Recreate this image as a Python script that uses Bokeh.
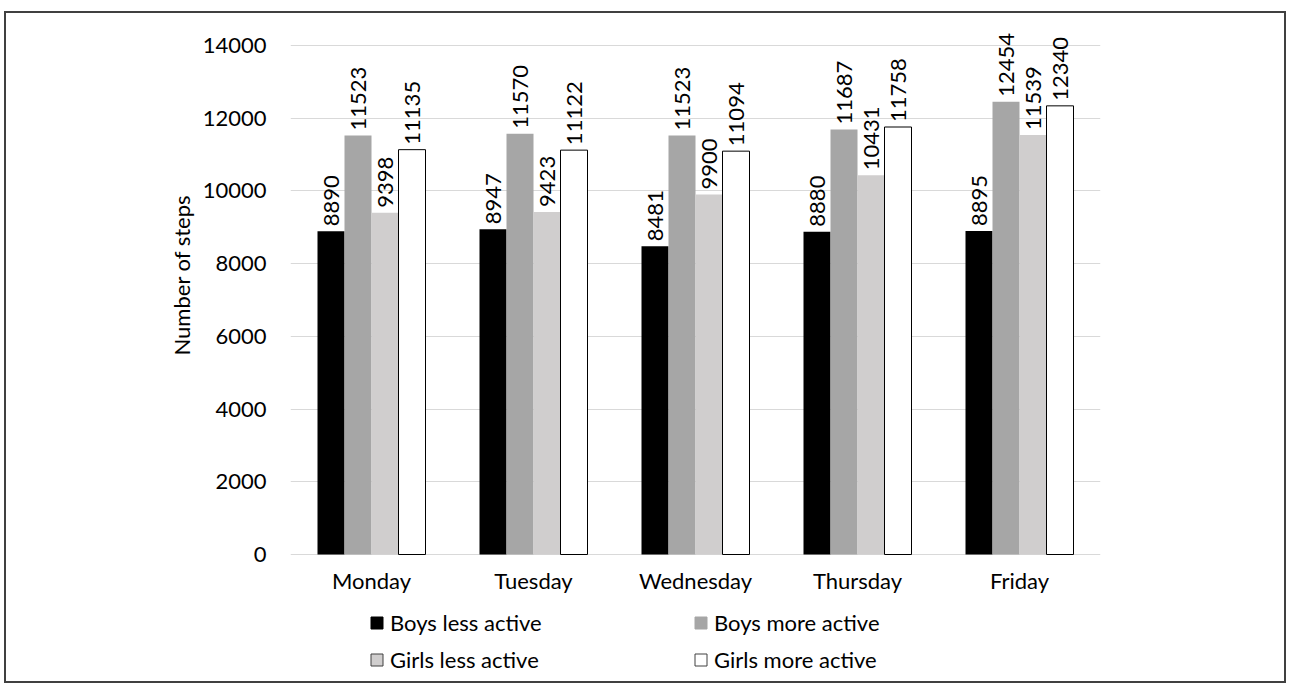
from bokeh.plotting import figure
from bokeh.models import (ColumnDataSource, FactorRange, Range1d, FixedTicker,
                          Legend, LegendItem, Title)
from bokeh.transform import dodge
from bokeh.core.properties import value
from bokeh.embed import file_html
from bokeh.resources import INLINE
import math

days = ["Monday", "Tuesday", "Wednesday", "Thursday", "Friday"]
series_names = ["Boys less active", "Boys more active", "Girls less active", "Girls more active"]
boys_less = [8890, 8947, 8481, 8880, 8895]
boys_more = [11523, 11570, 11523, 11687, 12454]
girls_less = [9398, 9423, 9900, 10431, 11539]
girls_more = [11135, 11122, 11094, 11758, 12340]
y_ticks = [0, 2000, 4000, 6000, 8000, 10000, 12000, 14000]

FONT = "Lato"
FS = "22px"

# frame spans the full canvas height so value labels and legend are not clipped;
# the y range is widened so that 0..14000 sits where the reference draws it
Y_START, Y_END = -3603, 14880

p = figure(x_range=FactorRange(*days), y_range=Range1d(Y_START, Y_END),
           width=1282, height=672, output_backend="svg", toolbar_location=None,
           x_axis_location=None,
           min_border_left=284, min_border_right=188, min_border_top=0, min_border_bottom=0)
p.styles = {"border": "2px solid #404040", "margin-left": "4px", "margin-top": "11px"}
p.outline_line_color = None
p.background_fill_color = "white"
p.border_fill_color = "white"

src = ColumnDataSource(dict(day=days, bl=boys_less, bm=boys_more, gl=girls_less, gm=girls_more,
                            bl_t=[str(v) for v in boys_less], bm_t=[str(v) for v in boys_more],
                            gl_t=[str(v) for v in girls_less], gm_t=[str(v) for v in girls_more]))

w = 1.0 / 6.0
cols = ["bl", "bm", "gl", "gm"]
fills = ["#000000", "#a6a6a6", "#d0cece", "#ffffff"]
lines = [None, None, None, "#000000"]
offsets = [-1.5 * w, -0.5 * w, 0.5 * w, 1.5 * w]

for c, f, l, o in zip(cols, fills, lines, offsets):
    p.vbar(x=dodge("day", o, range=p.x_range), top=c, bottom=0, width=w, source=src,
           fill_color=f, line_color=l, line_width=1)
    p.text(x=dodge("day", o, range=p.x_range), y=c, text=c + "_t", source=src,
           angle=math.pi / 2, text_align="left", text_baseline="middle",
           y_offset=-5, text_font=value(FONT), text_font_size=FS, text_color="#000000")

# category labels under the baseline
cat_src = ColumnDataSource(dict(day=days, y=[0] * len(days)))
p.text(x="day", y="y", text="day", source=cat_src, text_align="center",
       text_baseline="middle", y_offset=26, text_font=value(FONT),
       text_font_size=FS, text_color="#000000")

# legend proxies: one hidden bar each (placed below the visible range), legend-only styling
leg_lines = ["#000000", "#a6a6a6", "#404040", "#404040"]
items = []
for name, f, l in zip(series_names, fills, leg_lines):
    r = p.vbar(x=[days[0]], top=[Y_START - 1000], bottom=[Y_START - 2000], width=w,
               fill_color=f, line_color=l, line_width=1)
    items.append(LegendItem(label=name, renderers=[r]))

legend = Legend(items=items, orientation="horizontal", ncols=2,
                glyph_width=15, glyph_height=15, label_standoff=6,
                label_width=293, label_height=25, spacing=10,
                padding=0, margin=0, border_line_color=None, background_fill_alpha=0,
                label_text_font=FONT, label_text_font_size=FS, label_text_color="#000000",
                location=(79, 12))
p.add_layout(legend, "center")

p.xgrid.grid_line_color = None
p.ygrid.grid_line_color = "#d9d9d9"
p.ygrid.grid_line_width = 1
p.ygrid.ticker = FixedTicker(ticks=y_ticks)
p.yaxis.ticker = FixedTicker(ticks=y_ticks)
p.yaxis.axis_line_color = None
p.yaxis.major_tick_line_color = None
p.yaxis.minor_tick_line_color = None
p.yaxis.major_tick_out = 0
p.yaxis.minor_tick_out = 0
p.yaxis.major_label_standoff = 24
p.yaxis.major_label_text_font = FONT
p.yaxis.major_label_text_font_size = FS
p.yaxis.major_label_text_color = "#000000"

ytitle = Title(text="Number of steps", align="left", offset=330,
               text_font=FONT, text_font_size=FS, text_font_style="normal",
               text_color="#000000")
p.add_layout(ytitle, "left")

open("out.html", "w").write(file_html(p, INLINE))
